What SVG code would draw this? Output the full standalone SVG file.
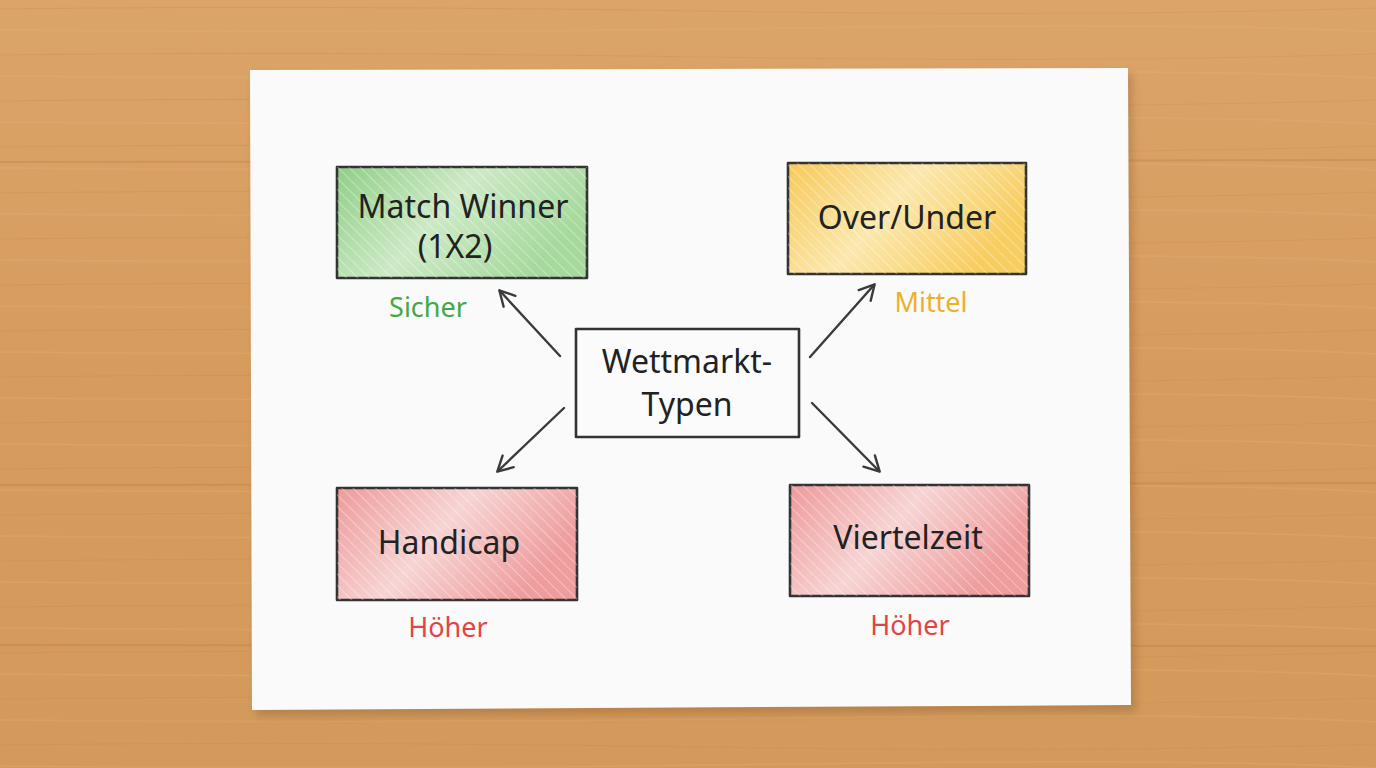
<svg xmlns="http://www.w3.org/2000/svg" width="1376" height="768" viewBox="0 0 1376 768">
<defs>
<linearGradient id="wood" x1="0" y1="0" x2="0" y2="1">
<stop offset="0" stop-color="#dba468"/>
<stop offset="0.5" stop-color="#d69c5e"/>
<stop offset="1" stop-color="#d39a5c"/>
</linearGradient>
<pattern id="grain" width="1376" height="46" patternUnits="userSpaceOnUse">
<path d="M0 9 Q300 5 700 11 T1376 8" stroke="#c48443" stroke-width="1.2" fill="none" opacity="0.25"/>
<path d="M0 30 Q400 34 800 28 T1376 32" stroke="#e6b27a" stroke-width="1.5" fill="none" opacity="0.25"/>
</pattern>
<linearGradient id="gGreen" x1="0" y1="0" x2="1" y2="0.4">
<stop offset="0" stop-color="#8fcf86"/>
<stop offset="0.5" stop-color="#cde9c6"/>
<stop offset="1" stop-color="#a6d99c"/>
</linearGradient>
<linearGradient id="gYellow" x1="0" y1="0" x2="1" y2="0.4">
<stop offset="0" stop-color="#f7c95a"/>
<stop offset="0.5" stop-color="#fbe8ae"/>
<stop offset="1" stop-color="#f8cd60"/>
</linearGradient>
<linearGradient id="gRed" x1="0" y1="0" x2="1" y2="0.4">
<stop offset="0" stop-color="#ee9a9a"/>
<stop offset="0.5" stop-color="#f7d4d4"/>
<stop offset="1" stop-color="#ee9c9c"/>
</linearGradient>
<pattern id="hatch" width="8" height="8" patternUnits="userSpaceOnUse" patternTransform="rotate(-45)">
<line x1="0" y1="0" x2="0" y2="8" stroke="#ffffff" stroke-width="2" opacity="0.35"/>
</pattern>
<marker id="ah" viewBox="0 0 20 20" refX="16" refY="10" markerWidth="20" markerHeight="20" markerUnits="userSpaceOnUse" orient="auto">
<path d="M2 2 L17 10 L2 18" fill="none" stroke="#3a3a3a" stroke-width="2.4" stroke-linecap="round" stroke-linejoin="round"/>
</marker>
<filter id="shadow" x="-5%" y="-5%" width="110%" height="110%">
<feGaussianBlur stdDeviation="4"/>
</filter>
</defs>
<style>
.t{font-family:"Noto Sans","Open Sans",sans-serif;fill:#222;text-anchor:middle}
.big{font-size:32px}
.lab{font-family:"Noto Sans","Open Sans",sans-serif;font-size:27px;text-anchor:middle}
.box{stroke:#333;stroke-width:2.6;stroke-linejoin:round}
.con{stroke:#3a3a3a;stroke-width:2.4;fill:none;stroke-linecap:round}
</style>
<rect width="1376" height="768" fill="url(#wood)"/>
<rect width="1376" height="768" fill="url(#grain)"/>
<g opacity="0.2" stroke="#a86528" stroke-width="2" fill="none">
<line x1="0" y1="162" x2="1376" y2="160"/>
<line x1="0" y1="485" x2="1376" y2="483"/>
<line x1="0" y1="645" x2="1376" y2="646"/>
</g>
<polygon points="254,76 1132,74 1136,712 256,716" fill="#7a4a20" opacity="0.3" filter="url(#shadow)"/>
<polygon id="paper" points="250,70 1128,68 1131,705 252,710" fill="#fafafa"/>

<g id="connectors">
<line class="con" x1="560" y1="356" x2="500" y2="291" marker-end="url(#ah)"/>
<line class="con" x1="810" y1="357" x2="874" y2="285" marker-end="url(#ah)"/>
<line class="con" x1="564" y1="408" x2="498" y2="471" marker-end="url(#ah)"/>
<line class="con" x1="812" y1="403" x2="879" y2="471" marker-end="url(#ah)"/>
</g>

<g id="center">
<rect class="box" x="576" y="329" width="223" height="108" fill="#fbfbfb"/>
<text class="t big" x="687" y="373">Wettmarkt-</text>
<text class="t big" x="687" y="416">Typen</text>
</g>

<g id="match-winner">
<rect class="box" x="337" y="167" width="250" height="111" fill="url(#gGreen)"/>
<rect x="337" y="167" width="250" height="111" fill="url(#hatch)"/>
<text class="t big" x="463" y="218">Match Winner</text>
<text class="t big" x="455" y="258">(1X2)</text>
<text class="lab" x="428" y="317" fill="#45a845">Sicher</text>
</g>

<g id="over-under">
<rect class="box" x="788" y="163" width="238" height="111" fill="url(#gYellow)"/>
<rect x="788" y="163" width="238" height="111" fill="url(#hatch)"/>
<text class="t big" x="907" y="229">Over/Under</text>
<text class="lab" x="931" y="312" fill="#eab12c">Mittel</text>
</g>

<g id="handicap">
<rect class="box" x="337" y="488" width="240" height="112" fill="url(#gRed)"/>
<rect x="337" y="488" width="240" height="112" fill="url(#hatch)"/>
<text class="t big" x="449" y="554">Handicap</text>
<text class="lab" x="448" y="637" fill="#e04545">Höher</text>
</g>

<g id="viertelzeit">
<rect class="box" x="790" y="485" width="239" height="111" fill="url(#gRed)"/>
<rect x="790" y="485" width="239" height="111" fill="url(#hatch)"/>
<text class="t big" x="908" y="549">Viertelzeit</text>
<text class="lab" x="910" y="635" fill="#e04545">Höher</text>
</g>
</svg>
